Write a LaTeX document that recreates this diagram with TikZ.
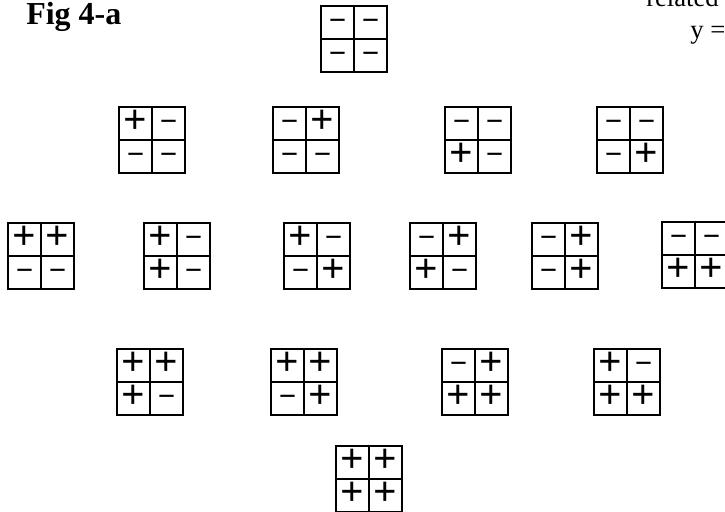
\documentclass[tikz,border=0pt]{standalone}
\usepackage{fontspec}
\setmainfont{Liberation Serif}
\usetikzlibrary{calc}
\tikzset{
  gridbox/.style={draw, line width=1.7pt, minimum size=49.5pt, inner sep=0pt, outer sep=0pt},
  gridline/.style={line width=1.4pt},
  signp/.style={inner sep=0pt, font=\fontsize{31}{31}\selectfont\bfseries, text height=15.5pt, text depth=0pt, node contents={+}},
  signm/.style={inner sep=0pt, font=\fontsize{23}{23}\selectfont\bfseries, text height=11.5pt, text depth=0pt, node contents={−}},
  pagetext/.style={inner sep=0pt, anchor=base west, font=\fontsize{20}{20}\selectfont}
}
% name, left, top, TL, TR, BL, BR
\newcommand{\sgrid}[7]{%
  \node[gridbox] (#1) at (#2+33,#3+33) {};
  \draw[gridline] (#1.north) -- (#1.south) (#1.west) -- (#1.east);
  \node (#1-a) at ($(#1.center)+(-16.5,-16.5)$) [sign#4];
  \node (#1-b) at ($(#1.center)+(16.5,-16.5)$) [sign#5];
  \node (#1-c) at ($(#1.center)+(-16.5,16.5)$) [sign#6];
  \node (#1-d) at ($(#1.center)+(16.5,16.5)$) [sign#7];
}
\begin{document}
\begin{tikzpicture}[x=0.75pt,y=-0.75pt]
\useasboundingbox (0,0) rectangle (725,511);
\clip (0,0) rectangle (725,511);
\fill[white] (0,0) rectangle (725,511);
% texts
\node[inner sep=0pt, anchor=base west, font=\fontsize{24}{24}\selectfont\bfseries] (title) at (26,24) {Fig 4-a};
\node[pagetext] (rel) at (646,6) {related};
\node[pagetext] (yeq) at (690,38) {y =};
% row 0
\sgrid{g0}{321}{6}{m}{m}{m}{m}
% row 1
\sgrid{g1}{119}{107}{p}{m}{m}{m}
\sgrid{g2}{273}{107}{m}{p}{m}{m}
\sgrid{g3}{445}{107}{m}{m}{p}{m}
\sgrid{g4}{597}{107}{m}{m}{m}{p}
% row 2
\sgrid{g5}{8}{223}{p}{p}{m}{m}
\sgrid{g6}{144}{223}{p}{m}{p}{m}
\sgrid{g7}{284}{223}{p}{m}{m}{p}
\sgrid{g8}{410}{223}{m}{p}{p}{m}
\sgrid{g9}{532}{223}{m}{p}{m}{p}
\sgrid{g10}{662}{222}{m}{m}{p}{p}
% row 3
\sgrid{g11}{117}{349}{p}{p}{p}{m}
\sgrid{g12}{271}{349}{p}{p}{m}{p}
\sgrid{g13}{442}{349}{m}{p}{p}{p}
\sgrid{g14}{594}{349}{p}{m}{p}{p}
% row 4
\sgrid{g15}{336}{446}{p}{p}{p}{p}
\end{tikzpicture}
\end{document}
